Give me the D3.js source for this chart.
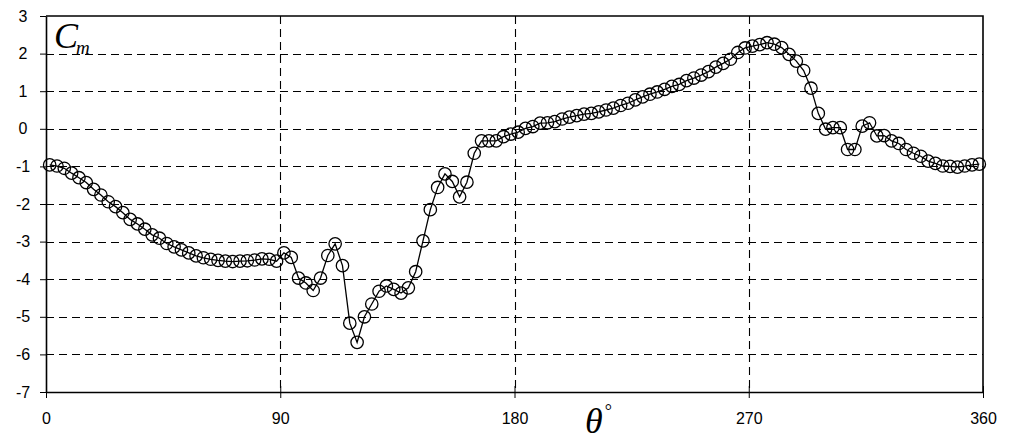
<!DOCTYPE html>
<html>
<head>
<meta charset="utf-8">
<script src="https://cdn.jsdelivr.net/npm/d3@7/dist/d3.min.js"></script>
<style>
  body { margin: 0; background: #fff; }
  svg { display: block; }
  .tick text { font-family: "Liberation Sans", Arial, sans-serif; font-size: 16px; fill: #000; }
</style>
</head>
<body>
<svg id="chart"></svg>
<script>
// sampling angle, degrees (cell centres, 128 per turn)
const theta = [
  1.41, 4.22, 7.03, 9.84, 12.66, 15.47, 18.28, 21.09, 23.91, 26.72, 29.53, 32.34, 35.16, 37.97, 40.78, 43.59,
  46.41, 49.22, 52.03, 54.84, 57.66, 60.47, 63.28, 66.09, 68.91, 71.72, 74.53, 77.34, 80.16, 82.97, 85.78, 88.59,
  91.41, 94.22, 97.03, 99.84, 102.66, 105.47, 108.28, 111.09, 113.91, 116.72, 119.53, 122.34, 125.16, 127.97, 130.78, 133.59,
  136.41, 139.22, 142.03, 144.84, 147.66, 150.47, 153.28, 156.09, 158.91, 161.72, 164.53, 167.34, 170.16, 172.97, 175.78, 178.59,
  181.41, 184.22, 187.03, 189.84, 192.66, 195.47, 198.28, 201.09, 203.91, 206.72, 209.53, 212.34, 215.16, 217.97, 220.78, 223.59,
  226.41, 229.22, 232.03, 234.84, 237.66, 240.47, 243.28, 246.09, 248.91, 251.72, 254.53, 257.34, 260.16, 262.97, 265.78, 268.59,
  271.41, 274.22, 277.03, 279.84, 282.66, 285.47, 288.28, 291.09, 293.91, 296.72, 299.53, 302.34, 305.16, 307.97, 310.78, 313.59,
  316.41, 319.22, 322.03, 324.84, 327.66, 330.47, 333.28, 336.09, 338.91, 341.72, 344.53, 347.34, 350.16, 352.97, 355.78, 358.59
];

// moment coefficient
const cm = [
  -0.96, -0.99, -1.05, -1.18, -1.30, -1.43, -1.61, -1.76, -1.94, -2.07,
  -2.23, -2.41, -2.53, -2.67, -2.82, -2.91, -3.05, -3.14, -3.22, -3.30,
  -3.38, -3.43, -3.47, -3.50, -3.52, -3.53, -3.52, -3.51, -3.49, -3.46,
  -3.47, -3.52, -3.30, -3.42, -3.97, -4.10, -4.30, -3.97, -3.37, -3.06,
  -3.64, -5.17, -5.68, -5.00, -4.66, -4.32, -4.18, -4.27, -4.37, -4.23,
  -3.80, -2.98, -2.15, -1.56, -1.20, -1.40, -1.81, -1.42, -0.65, -0.32,
  -0.32, -0.32, -0.21, -0.14, -0.09, 0.01, 0.06, 0.15, 0.16, 0.19,
  0.26, 0.31, 0.35, 0.39, 0.41, 0.45, 0.50, 0.55, 0.62, 0.68,
  0.77, 0.85, 0.92, 0.98, 1.05, 1.13, 1.18, 1.28, 1.35, 1.43,
  1.52, 1.64, 1.74, 1.85, 2.03, 2.15, 2.20, 2.24, 2.29, 2.25,
  2.16, 1.98, 1.80, 1.55, 1.08, 0.41, -0.01, 0.03, 0.03, -0.55,
  -0.55, 0.07, 0.16, -0.19, -0.18, -0.32, -0.39, -0.55, -0.65, -0.73,
  -0.86, -0.92, -0.99, -1.00, -1.02, -0.99, -0.96, -0.94
];

const xTicks = [0, 90, 180, 270, 360];
const yTicks = [-7, -6, -5, -4, -3, -2, -1, 0, 1, 2, 3];
const xGrid = [90, 180, 270];
const yGrid = [-6, -5, -4, -3, -2, -1, 0, 1, 2];

const W = 1015, H = 443;
const margin = { top: 16, right: 32, bottom: 51, left: 46 };

const svg = d3.select('#chart')
    .attr('width', W)
    .attr('height', H);

const x = d3.scaleLinear().domain([0, 360]).range([margin.left, W - margin.right]);
const y = d3.scaleLinear().domain([-7, 3]).range([H - margin.bottom, margin.top]);

const points = theta.map((t, i) => ({ t, v: cm[i] }));

// ── grid ──
const grid = svg.append('g').attr('stroke', '#000').attr('stroke-width', 1.1)
    .attr('stroke-dasharray', '8,5').attr('fill', 'none');

grid.selectAll('line.h')
    .data(yGrid)
    .join('line')
    .attr('class', 'h')
    .attr('x1', x(0)).attr('x2', x(360))
    .attr('y1', d => Math.round(y(d)) + 0.5)
    .attr('y2', d => Math.round(y(d)) + 0.5);

grid.selectAll('line.v')
    .data(xGrid)
    .join('line')
    .attr('class', 'v')
    .attr('x1', d => Math.round(x(d)) + 0.5)
    .attr('x2', d => Math.round(x(d)) + 0.5)
    .attr('y1', y(3)).attr('y2', y(-7));

// ── frame (top & right) ──
svg.append('path')
    .attr('d', `M${x(0)},${y(3)}H${x(360)}V${y(-7)}`)
    .attr('fill', 'none')
    .attr('stroke', '#000')
    .attr('stroke-width', 1.6);

// ── axes ──
const yAxis = svg.append('g')
    .attr('transform', `translate(${x(0)},0)`)
    .call(d3.axisLeft(y).tickValues(yTicks).tickSize(6).tickSizeOuter(0).tickFormat(d => String(d)));
yAxis.selectAll('text').attr('x', -23).attr('text-anchor', 'middle');

const xAxis = svg.append('g')
    .attr('transform', `translate(0,${y(-7)})`)
    .call(d3.axisBottom(x).tickValues(xTicks).tickSize(6).tickSizeOuter(0));
xAxis.selectAll('.tick line').attr('y1', -6).attr('y2', 6);
xAxis.selectAll('text').attr('y', 21);

svg.selectAll('.domain').attr('stroke', '#000').attr('stroke-width', 1.6);
svg.selectAll('.tick line').attr('stroke', '#000');

// ── series ──
const line = d3.line()
    .x(d => x(d.t))
    .y(d => y(d.v));

svg.append('path')
    .datum(points)
    .attr('d', line)
    .attr('fill', 'none')
    .attr('stroke', '#000')
    .attr('stroke-width', 1.3);

svg.append('g')
    .selectAll('circle')
    .data(points)
    .join('circle')
    .attr('cx', d => x(d.t))
    .attr('cy', d => y(d.v))
    .attr('r', 6.2)
    .attr('fill', 'none')
    .attr('stroke', '#000')
    .attr('stroke-width', 1.3);

// ── axis titles ──
const cmLabel = svg.append('text')
    .attr('x', 54).attr('y', 48)
    .attr('font-family', '"Liberation Serif", "Times New Roman", serif')
    .attr('font-style', 'italic');
cmLabel.append('tspan').attr('font-size', 36).text('C');
cmLabel.append('tspan').attr('font-size', 19).attr('dy', 6).attr('dx', -2).text('m');

const thLabel = svg.append('text')
    .attr('x', 585).attr('y', 433)
    .attr('font-family', '"Liberation Serif", "Times New Roman", serif');
thLabel.append('tspan').attr('font-size', 36).attr('font-style', 'italic').text('θ');
thLabel.append('tspan').attr('font-size', 18).attr('dy', -16).attr('dx', 2).text('°');
</script>
</body>
</html>
